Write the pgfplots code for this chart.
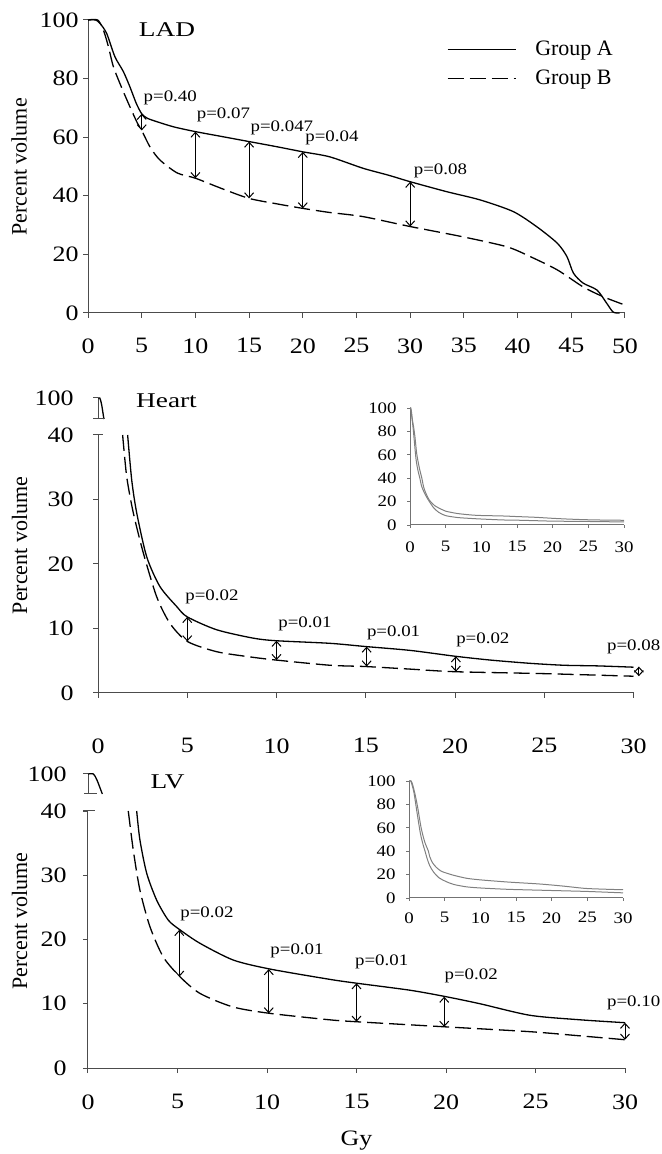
\documentclass[border=0pt]{standalone}
\usepackage{fontspec}
\setmainfont{Liberation Serif}[FakeStretch=1.18]
\newfontfamily\plainserif{Liberation Serif}
\newfontfamily\titleserif{Liberation Serif}[FakeStretch=1.3]
\usepackage{pgfplots}
\usepackage{pgfplotstable}
\pgfplotsset{compat=1.18}
\usetikzlibrary{arrows.meta}

% LAD
\pgfplotstableread{
x y
0 100
0.7 100
1.1 98.9
1.74 95.4
2.5 87.5
3.29 82.4
3.9 77.2
4.5 71.5
5 68
5.5 66.5
6.4 65.3
8 63.5
10 61.9
12.5 60.2
15 58.5
17.5 56.8
20 55
22.5 53.3
25.6 49.4
28 47
30 44.8
33.4 41.4
36.5 38.6
39.6 34.6
41.8 29.4
43.7 23.8
44.6 19.2
45.2 13.6
46.1 10.2
47.4 7.8
48.3 3.3
48.9 0.3
49.5 0
}\ladA
\pgfplotstableread{
x y
0 100
0.9 100
1.43 96.6
1.9 90.9
2.36 84.1
3.1 77.2
3.9 70.4
4.6 64.8
5 62.3
5.8 56.5
6.7 52.2
8.3 47.8
10 46
12.5 42.4
15 39.1
17.5 37.3
20 35.7
22.5 34.3
25.6 32.9
30 29.5
34.9 26
39 22.6
41.2 19.2
43.7 14.7
46.1 8.9
48 5.5
50 2.7
}\ladB
% Heart
\pgfplotstableread{
x y
0 100
0.1 100
0.2 97
0.33 90
0.5 84
0.7 75
0.94 61
1.3 49
1.66 40
1.89 33
2.17 27.9
2.73 21.1
3.47 16.5
4.41 13.4
5 11.8
6.65 9.8
8.7 8.5
10 8.1
13 7.7
15 7.2
17.5 6.6
20 5.7
22 5.1
24.2 4.6
26.1 4.3
28 4.2
30 4.0
}\heartA
\pgfplotstableread{
x y
0 100
0.08 100
0.18 96
0.3 90
0.45 82
0.6 72
0.85 56
1.1 47
1.38 40
1.61 33.5
1.98 27.9
2.54 21.7
3.29 14.9
4.03 10.8
5 8
6.65 6.4
8.5 5.6
10 5.1
13 4.3
15 4.1
17.5 3.7
20 3.3
25 3.0
30 2.6
}\heartB
% LV
\pgfplotstableread{
x y
0 100
0.3 100
0.5 97
0.8 90
1.2 78
1.7 60
2.2 48
2.72 40
2.9 35.5
3.28 30.3
3.84 26.1
4.49 23
5.14 21.5
6.26 19.4
8.12 16.8
10.17 15.4
13.5 13.8
15 13.2
18 12.1
20 11.1
21.9 10.0
24.7 8.2
27.5 7.5
30 7.05
}\lvA
\pgfplotstableread{
x y
0 100
0.25 100
0.45 96
0.7 90
1.1 74
1.6 55
2.0 45
2.25 40
2.53 33.9
2.9 27.7
3.46 22
4.2 17.3
5.14 14.2
6.26 11.6
8.1 9.5
10.17 8.5
13.5 7.5
15 7.2
20 6.4
24.7 5.65
27.5 5.0
30 4.4
}\lvB

\tikzset{
  plab/.style={anchor=base west, inner sep=0pt, font=\fontsize{8}{9.5}\selectfont},
  arrtips/.style={{Straight Barb[length=2.5pt,width=4.5pt]}-{Straight Barb[length=2.5pt,width=4.5pt]}},
}
\pgfplotsset{
  base/.style={
    scale only axis, enlargelimits=false, clip=false,
    axis x line=bottom, axis y line=left,
    axis line style={-, black!70, line width=0.5pt},
    tick align=outside, major tick length=2.5pt,
    tick style={black!70, line width=0.5pt},
    /pgf/number format/assume math mode=true,
    tick label style={font=\fontsize{11}{12}\selectfont},
    yticklabel style={anchor=east, inner sep=0pt},
    xticklabel style={anchor=north, inner sep=0pt},
  },
  insetax/.style={
    scale only axis, enlargelimits=false,
    axis x line=bottom, axis y line=left,
    axis line style={-, black!55, line width=0.5pt},
    tick align=outside, major tick length=1.5pt,
    tick style={black!55, line width=0.4pt},
    /pgf/number format/assume math mode=true,
    tick label style={font=\fontsize{8}{9}\selectfont},
    yticklabel style={anchor=east, inner sep=0pt, xshift=-5pt},
    xticklabel style={anchor=north, inner sep=0pt},
    xmin=0, xmax=30, ymin=0, ymax=100,
    xtick={0,5,...,30}, ytick={0,20,...,100},
    width=107pt, height=58.5pt,
  },
  solidc/.style={black, line width=0.65pt, smooth, tension=0.45},
  dashc/.style={black, line width=0.65pt, dash pattern=on 8pt off 3pt, smooth, tension=0.45},
  insc/.style={black!50, line width=0.5pt, smooth, tension=0.45},
  arr/.style={black, line width=0.5pt, arrtips, forget plot},
}

\begin{document}
\begin{tikzpicture}
\useasboundingbox (0,0) rectangle (331pt,577pt);

% ---------------- Panel 1: LAD ----------------
\begin{axis}[base, at={(44pt,420.5pt)}, anchor=south west,
  width=268.5pt, height=146.5pt,
  xmin=0, xmax=50, ymin=0, ymax=100,
  xtick={0,5,...,50}, ytick={0,20,...,100},
  yticklabel style={xshift=-2pt},
  xticklabel style={yshift=-10pt},
  legend style={draw=none, fill=none, inner sep=0pt, outer sep=0pt,
    at={(0.6685,0.935)}, anchor=north west,
    font=\plainserif\fontsize{11}{13}\selectfont,
    nodes={inner sep=0pt, text height=8pt, text depth=2.5pt},
    column sep=9.5pt, row sep=4pt},
  legend cell align=left,
  legend image code/.code={\draw[#1] (0pt,0pt) -- (34pt,0pt);},
]
\addplot[solidc] table {\ladA};
\addplot[dashc] table {\ladB};
\legend{Group A, Group B}
\addplot[arr] coordinates {(5,62.3) (5,68)};
\addplot[arr] coordinates {(10,46) (10,61.9)};
\addplot[arr] coordinates {(15,39.1) (15,58.5)};
\addplot[arr] coordinates {(20,35.7) (20,55)};
\addplot[arr] coordinates {(30,29.5) (30,44.8)};
\node[plab] at (axis cs:5.15,72.1) {p=0.40};
\node[plab] at (axis cs:10.1,66.4) {p=0.07};
\node[plab] at (axis cs:15.1,61.9) {p=0.047};
\node[plab] at (axis cs:20.2,58.5) {p=0.04};
\node[plab] at (axis cs:30.3,47.1) {p=0.08};
\end{axis}
\node[font=\titleserif\fontsize{10.5}{12}\selectfont] at (83.5pt,562pt) {LAD};
\node[rotate=90, font=\plainserif\fontsize{11}{13}\selectfont] at (9.5pt,493.5pt) {Percent volume};

% ---------------- Panel 2: Heart ----------------
\begin{axis}[base, at={(49pt,367.5pt)}, anchor=south west,
  width=267.75pt, height=10.5pt,
  xmin=0, xmax=30, ymin=90, ymax=100,
  axis x line=none, xtick=\empty, ytick={100},
  yticklabel style={xshift=-9.5pt},
]
\addplot[solidc, restrict y to domain=90:100] table {\heartA};
\end{axis}
\begin{axis}[base, at={(49pt,230.5pt)}, anchor=south west,
  width=267.75pt, height=129pt,
  xmin=0, xmax=30, ymin=0, ymax=40,
  xtick={0,5,...,30}, ytick={0,10,...,40},
  yticklabel style={xshift=-9.5pt},
  xticklabel style={yshift=-20pt},
]
\addplot[solidc, restrict y to domain=0:40] table {\heartA};
\addplot[dashc, restrict y to domain=0:40] table {\heartB};
\addplot[arr] coordinates {(5,8) (5,11.8)};
\addplot[arr] coordinates {(10,5.1) (10,8.1)};
\addplot[arr] coordinates {(15.05,4.1) (15.05,7.2)};
\addplot[arr] coordinates {(20.05,3.3) (20.05,5.7)};
\addplot[arr] coordinates {(30.3,2.6) (30.3,4.1)};
\node[plab] at (axis cs:4.87,14.3) {p=0.02};
\node[plab] at (axis cs:10.08,10.1) {p=0.01};
\node[plab] at (axis cs:15.05,8.8) {p=0.01};
\node[plab] at (axis cs:20.05,7.6) {p=0.02};
\node[plab] at (axis cs:28.5,6.6) {p=0.08};
\end{axis}
\draw[black!70, line width=0.5pt] (46.5pt,367.5pt) -- (52.5pt,367.5pt);
\draw[black!70, line width=0.5pt] (46.5pt,359.5pt) -- (51.5pt,359.5pt);
\begin{axis}[insetax, at={(205pt,314.5pt)}, anchor=south west,
  xticklabel style={yshift=-6.5pt}]
\addplot[insc] table {\heartA};
\addplot[insc] table {\heartB};
\end{axis}
\node[font=\titleserif\fontsize{10.5}{12}\selectfont] at (83.25pt,376.5pt) {Heart};
\node[rotate=90, font=\plainserif\fontsize{11}{13}\selectfont] at (9.75pt,304.25pt) {Percent volume};

% ---------------- Panel 3: LV ----------------
\begin{axis}[base, at={(44pt,180pt)}, anchor=south west,
  width=268.5pt, height=10pt,
  xmin=0, xmax=30, ymin=90, ymax=100,
  axis x line=none, xtick=\empty, ytick={100},
  yticklabel style={xshift=-8pt},
]
\addplot[solidc, restrict y to domain=90:100] table {\lvA};
\end{axis}
\begin{axis}[base, at={(44pt,43pt)}, anchor=south west,
  width=268.5pt, height=128.5pt,
  xmin=0, xmax=30, ymin=0, ymax=40,
  xtick={0,5,...,30}, ytick={0,10,...,40},
  yticklabel style={xshift=-8pt},
  xticklabel style={yshift=-10.5pt},
]
\addplot[solidc, restrict y to domain=0:40] table {\lvA};
\addplot[dashc, restrict y to domain=0:40] table {\lvB};
\addplot[arr] coordinates {(5.1,14.2) (5.1,21.5)};
\addplot[arr] coordinates {(10.1,8.5) (10.1,15.4)};
\addplot[arr] coordinates {(15,7.2) (15,13.2)};
\addplot[arr] coordinates {(19.9,6.4) (19.9,11.1)};
\addplot[arr] coordinates {(30,4.4) (30,7.05)};
\node[plab] at (axis cs:5.14,23.5) {p=0.02};
\node[plab] at (axis cs:10.17,17.6) {p=0.01};
\node[plab] at (axis cs:14.9,16.0) {p=0.01};
\node[plab] at (axis cs:19.9,13.7) {p=0.02};
\node[plab] at (axis cs:28.98,9.5) {p=0.10};
\end{axis}
\draw[black!70, line width=0.5pt] (42pt,180pt) -- (48.5pt,180pt);
\draw[black!70, line width=0.5pt] (41.5pt,171.5pt) -- (47.5pt,171.5pt);
\begin{axis}[insetax, at={(204.5pt,128pt)}, anchor=south west,
  xticklabel style={yshift=-5.5pt}]
\addplot[insc] table {\lvA};
\addplot[insc] table {\lvB};
\end{axis}
\node[font=\titleserif\fontsize{10.5}{12}\selectfont] at (83.75pt,186pt) {LV};
\node[rotate=90, font=\plainserif\fontsize{11}{13}\selectfont] at (9.75pt,116.5pt) {Percent volume};

\node[font=\fontsize{11}{13}\selectfont] at (178.25pt,6.5pt) {Gy};
\end{tikzpicture}
\end{document}
